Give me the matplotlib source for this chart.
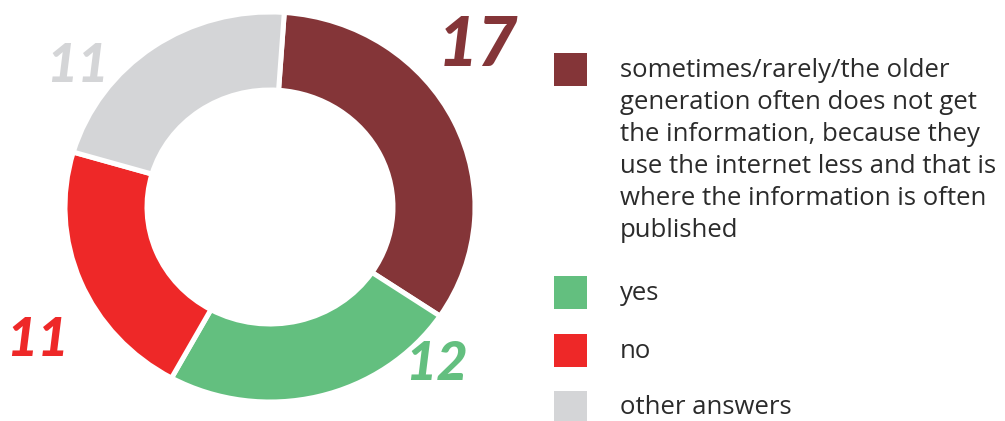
import matplotlib
matplotlib.use("Agg")
import matplotlib.pyplot as plt
from matplotlib.patches import Rectangle

# survey answers
labels = [
    "sometimes/rarely/the older\ngeneration often does not get\nthe information, because they\n"
    "use the internet less and that is\nwhere the information is often\npublished",
    "yes",
    "no",
    "other answers",
]
counts = [17, 12, 11, 11]
colors = ["#843538", "#63BF7F", "#EE2828", "#D4D5D7"]

W, H = 1005, 421
fig = plt.figure(figsize=(W / 100, H / 100), dpi=100)
fig.patch.set_facecolor("white")

# donut, slightly wider than tall
cx, cy = 270, 214
rx, ry = 205, 195
ax = fig.add_axes([(cx - rx) / W, (cy - ry) / H, 2 * rx / W, 2 * ry / H])
ax.pie(counts, colors=colors, startangle=86, counterclock=False,
       wedgeprops=dict(width=0.4, edgecolor="white", linewidth=3.6))
ax.set_aspect("auto")
ax.set_xlim(-1, 1)
ax.set_ylim(-1, 1)
ax.axis("off")

# big value labels around the ring
label_xy = [(478, 46), (436, 364), (37, 340), (77, 67)]
label_size = [50, 39, 39, 39]
for n, c, (px, py), fs in zip(counts, colors, label_xy, label_size):
    fig.text(px / W, 1 - py / H, str(n), color=c, fontsize=fs,
             family="Lato", weight="black", style="italic",
             ha="center", va="center")

# legend
box = 33
rows_y = [53, 276, 334, 391]
for lab, c, top in zip(labels, colors, rows_y):
    fig.patches.append(Rectangle((554 / W, 1 - (top + box) / H), box / W, box / H,
                                 transform=fig.transFigure, facecolor=c,
                                 edgecolor="none"))
    multi = "\n" in lab
    fig.text(620 / W, 1 - (top + 5 if multi else top + 17) / H, lab, color="#2b2b2b",
             fontsize=18.5, family="Open Sans", ha="left",
             va="top" if multi else "center", linespacing=1.37)

fig.savefig("out.png", dpi=100, facecolor="white")
